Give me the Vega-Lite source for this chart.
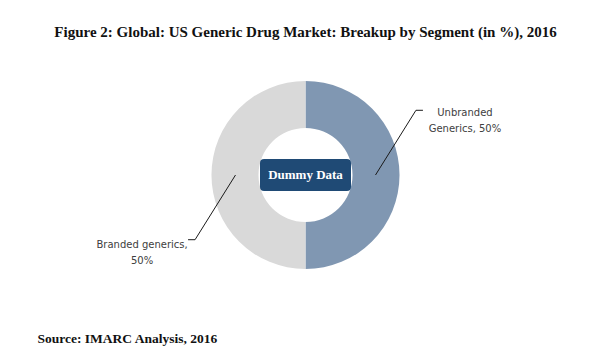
{
  "$schema": "https://vega.github.io/schema/vega-lite/v6.json",
  "width": 611,
  "height": 250,
  "autosize": "none",
  "padding": {"top": 50, "bottom": 64, "left": 0, "right": 0},
  "background": "white",
  "config": {
    "view": {"stroke": null},
    "axisX": {"domain": false, "ticks": false, "labels": false, "grid": false,
      "titleFont": "Liberation Serif", "titleFontSize": 13.5, "titleFontWeight": "bold", "titleColor": "#111",
      "titleX": 37, "titleY": 42, "titleAlign": "left", "titleBaseline": "alphabetic", "titleAnchor": null}
  },
  "title": {
    "text": "Figure 2: Global: US Generic Drug Market: Breakup by Segment (in %), 2016",
    "font": "Liberation Serif", "fontSize": 15, "fontWeight": "bold", "color": "#111",
    "anchor": "middle", "frame": "group", "offset": 10
  },
  "data": {"values": [
    {"segment": "Unbranded Generics", "share": 50, "order": 1, "label": "Unbranded\nGenerics, 50%"},
    {"segment": "Branded generics", "share": 50, "order": 2, "label": "Branded generics,\n50%"}
  ]},
  "layer": [
    {
      "mark": {"type": "arc", "outerRadius": 94, "innerRadius": 47},
      "encoding": {
        "theta": {"field": "share", "type": "quantitative", "stack": true},
        "order": {"field": "order"},
        "color": {"field": "segment", "type": "nominal", "legend": null,
          "scale": {"domain": ["Unbranded Generics", "Branded generics"], "range": ["#8097b2", "#d9d9d9"]}}
      }
    },
    {
      "transform": [
        {"window": [{"op": "sum", "field": "share", "as": "cum"}], "sort": [{"field": "order"}]},
        {"joinaggregate": [{"op": "sum", "field": "share", "as": "total"}]},
        {"calculate": "2*PI*(datum.cum - datum.share/2)/datum.total", "as": "mid"},
        {"calculate": "70*sin(datum.mid)", "as": "x1"},
        {"calculate": "70*cos(datum.mid)", "as": "y1"},
        {"calculate": "128*sin(datum.mid-0.53)", "as": "xe"},
        {"calculate": "128*cos(datum.mid-0.53)", "as": "ye"},
        {"calculate": "sin(datum.mid) >= 0 ? 1 : -1", "as": "side"},
        {"calculate": "datum.xe + datum.side*7", "as": "xt"}
      ],
      "layer": [
        {
          "mark": {"type": "rule", "color": "#1a1a1a", "strokeWidth": 1},
          "encoding": {
            "x": {"field": "x1", "type": "quantitative", "title": "Source: IMARC Analysis, 2016",
              "scale": {"domain": [-305.5, 305.5], "nice": false, "zero": false}},
            "y": {"field": "y1", "type": "quantitative", "axis": null,
              "scale": {"domain": [-125, 125], "nice": false, "zero": false}},
            "x2": {"field": "xe"},
            "y2": {"field": "ye"}
          }
        },
        {
          "mark": {"type": "rule", "color": "#1a1a1a", "strokeWidth": 1},
          "encoding": {
            "x": {"field": "xe", "type": "quantitative", "title": "Source: IMARC Analysis, 2016"},
            "x2": {"field": "xt"},
            "y": {"field": "ye", "type": "quantitative", "axis": null}
          }
        },
        {
          "transform": [{"filter": "datum.side > 0"}],
          "mark": {"type": "text", "font": "DejaVu Sans", "fontSize": 10, "color": "#404040",
            "lineBreak": "\n", "lineHeight": 16, "align": "center", "baseline": "middle", "dx": 42, "dy": 3},
          "encoding": {
            "x": {"field": "xt", "type": "quantitative", "title": "Source: IMARC Analysis, 2016"},
            "y": {"field": "ye", "type": "quantitative", "axis": null},
            "text": {"field": "label"}
          }
        },
        {
          "transform": [{"filter": "datum.side < 0"}],
          "mark": {"type": "text", "font": "DejaVu Sans", "fontSize": 10, "color": "#404040",
            "lineBreak": "\n", "lineHeight": 16, "align": "center", "baseline": "middle", "dx": -46, "dy": 5},
          "encoding": {
            "x": {"field": "xt", "type": "quantitative", "title": "Source: IMARC Analysis, 2016"},
            "y": {"field": "ye", "type": "quantitative", "axis": null},
            "text": {"field": "label"}
          }
        }
      ]
    },
    {
      "data": {"values": [{"note": "Dummy Data"}]},
      "layer": [
        {
          "mark": {"type": "point", "filled": true, "opacity": 1, "color": "#1f4a75", "size": 8281,
            "shape": "M-0.91,-0.352H0.91Q1,-0.352 1,-0.262V0.262Q1,0.352 0.91,0.352H-0.91Q-1,0.352 -1,0.262V-0.262Q-1,-0.352 -0.91,-0.352Z"},
          "encoding": {}
        },
        {
          "mark": {"type": "text", "font": "Liberation Serif", "fontSize": 13, "fontWeight": "bold",
            "color": "white", "align": "center", "baseline": "middle"},
          "encoding": {"text": {"field": "note"}}
        }
      ]
    }
  ]
}
